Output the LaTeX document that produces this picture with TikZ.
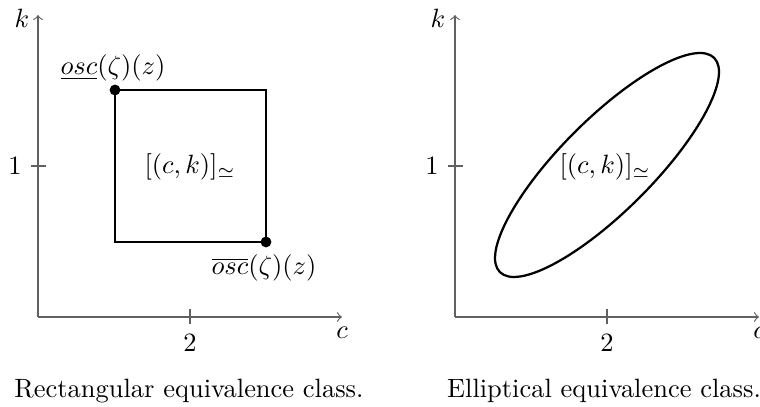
\documentclass[tikz,border=0pt]{standalone}
\usepackage{amsmath}
\begin{document}
\begin{tikzpicture}[x=0.378pt,y=0.378pt,
  axisline/.style={draw=black!62,line width=0.45pt,->},
  tickline/.style={draw=black!62,line width=0.45pt},
  shapeline/.style={draw=black,line width=0.85pt},
  pointdot/.style={circle,fill=black,inner sep=0pt,minimum size=4.1pt},
  lbl/.style={inner sep=0pt}]
\useasboundingbox (0,0) rectangle (760,407);
% ---------- left plot ----------
\coordinate (O1) at (38,90);
\coordinate (Y1) at (38,392);
\coordinate (X1) at (342,90);
\draw[axisline] (O1) -- (Y1);
\draw[axisline] (O1) -- (X1);
\coordinate (t2a) at (190,82.5);
\coordinate (t2b) at (190,97.5);
\draw[tickline] (t2a) -- (t2b);
\coordinate (t1a) at (30.5,241);
\coordinate (t1b) at (45.5,241);
\draw[tickline] (t1a) -- (t1b);
\node[lbl] (n2a) at (190,64) {$2$};
\node[lbl] (n1a) at (15,241) {$1$};
\node[lbl] (ka) at (22,389) {$k$};
\node[lbl] (ca) at (342,74) {$c$};
\coordinate (R1) at (115,165);
\coordinate (R2) at (266,317);
\draw[shapeline] (R1) rectangle (R2);
\node[pointdot] (dtl) at (115,317) {};
\node[pointdot] (dbr) at (266,165) {};
\node[lbl] (oscu) at (113,339) {$\underline{osc}(\zeta)(z)$};
\node[lbl] (osco) at (264,139) {$\overline{osc}(\zeta)(z)$};
\node[lbl] (cla) at (190,240) {$[(c,k)]_{\simeq}$};
\node[lbl] (capa) at (189,16) {Rectangular equivalence class.};
% ---------- right plot ----------
\coordinate (O2) at (455,90);
\coordinate (Y2) at (455,392);
\coordinate (X2) at (759,90);
\draw[axisline] (O2) -- (Y2);
\draw[axisline] (O2) -- (X2);
\coordinate (s2a) at (607,82.5);
\coordinate (s2b) at (607,97.5);
\draw[tickline] (s2a) -- (s2b);
\coordinate (s1a) at (447.5,241);
\coordinate (s1b) at (462.5,241);
\draw[tickline] (s1a) -- (s1b);
\node[lbl] (n2b) at (607,64) {$2$};
\node[lbl] (n1b) at (432,241) {$1$};
\node[lbl] (kb) at (438,389) {$k$};
\node[lbl] (cb) at (759,74) {$c$};
\coordinate (E) at (607,242);
\draw[shapeline,rotate around={45:(E)}] (E) ellipse [x radius=151.5, y radius=46];
\node[lbl] (clb) at (605,240) {$[(c,k)]_{\simeq}$};
\node[lbl] (capb) at (604,16) {Elliptical equivalence class.};
\end{tikzpicture}
\end{document}
